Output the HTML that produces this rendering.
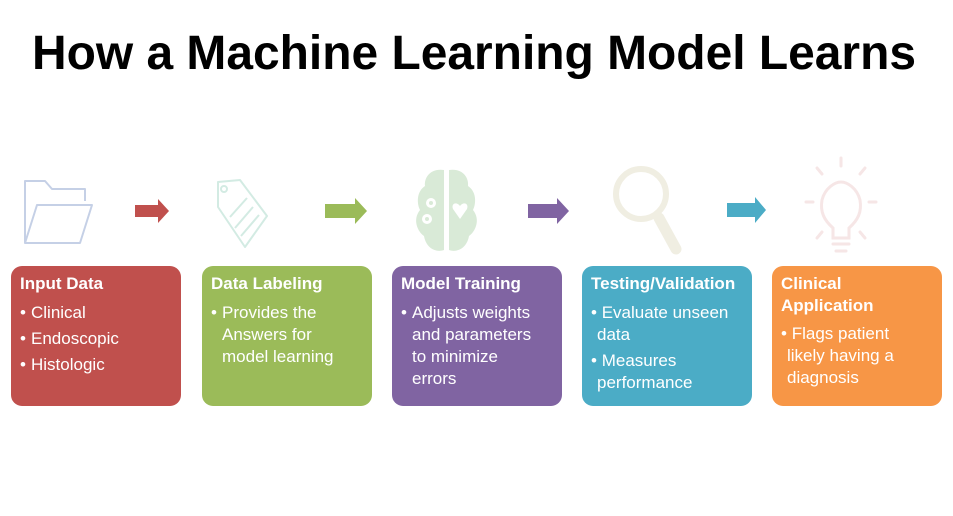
<!DOCTYPE html>
<html><head><meta charset="utf-8"><style>
*{margin:0;padding:0;box-sizing:border-box}
body{width:953px;height:516px;background:#fff;position:relative;overflow:hidden;font-family:"Liberation Sans",sans-serif}
.box{position:absolute;top:266px;width:170px;height:140px;border-radius:11px;color:#fff;padding:7px 9px}
.box h3{font-size:17px;font-weight:bold;line-height:22px}
.box p{font-size:17px;line-height:22px;position:relative;padding-left:11px;margin-top:4px;white-space:nowrap}
.box p::before{content:"•";position:absolute;left:0}
svg{position:absolute;left:0;top:0}
</style></head><body>
<svg width="953" height="516">
<text x="32" y="69" font-family="Liberation Sans" font-weight="bold" font-size="48" textLength="884" lengthAdjust="spacingAndGlyphs" fill="#000">How a Machine Learning Model Learns</text>
<polygon points="135,205 158,205 158,199 169,211 158,223 158,217 135,217" fill="#c0504d"/>
<polygon points="325,204 355,204 355,198 367,211 355,224 355,218 325,218" fill="#9bbb59"/>
<polygon points="528,204 557,204 557,198 569,211 557,224 557,218 528,218" fill="#8064a2"/>
<polygon points="727,203 755,203 755,197 766,210 755,223 755,217 727,217" fill="#4bacc6"/>
<g fill="none" stroke="#c5d0e6" stroke-width="2" stroke-linejoin="round">
<path d="M25,243 V181 H45 L52,189 H85 V201"/>
<path d="M25,243 L37,205 H92 L80,243 Z"/>
</g>
<g fill="none" stroke="#d3ebe3" stroke-width="2" stroke-linejoin="round">
<path d="M218,182 L240,180 L267,216 L245,247 L218,207 Z"/>
<circle cx="224" cy="189" r="3"/>
<line x1="230" y1="217" x2="247" y2="198"/>
<line x1="235" y1="228" x2="253" y2="207"/>
<line x1="241" y1="236" x2="259" y2="215"/>
</g>
<g fill="#d9ead7">
<path d="M444,170 C430,168 424,178 425,186 C416,192 417,204 420,210 C412,220 418,232 424,236 C426,248 436,253 444,250 Z"/>
<path d="M449,170 C463,168 469,178 468,186 C477,192 476,204 473,210 C481,220 475,232 469,236 C467,248 457,253 449,250 Z"/>
</g>
<g fill="#fff"><circle cx="431" cy="203" r="5"/><circle cx="427" cy="219" r="5"/>
<path d="M460,219 L453,209 C451,204 456,201 460,206 C464,201 469,204 467,209 Z"/></g>
<g fill="#d9ead7"><circle cx="431" cy="203" r="2"/><circle cx="427" cy="219" r="2"/></g>
<g stroke="#f0eee2" fill="none"><circle cx="641" cy="194" r="25" stroke-width="6"/>
<line x1="659" y1="218" x2="676" y2="249" stroke-width="11" stroke-linecap="round"/></g>
<g stroke="#f6e6e6" fill="none" stroke-width="3" stroke-linecap="round">
<path d="M833,238 V228 C824,220 820,212 822,200 C825,188 835,182 841,182 C847,182 857,188 860,200 C862,212 858,220 849,228 V238 Z"/>
<line x1="841" y1="158" x2="841" y2="166"/>
<line x1="817" y1="168" x2="822" y2="174"/><line x1="865" y1="168" x2="860" y2="174"/>
<line x1="806" y1="202" x2="813" y2="202"/><line x1="869" y1="202" x2="876" y2="202"/>
<line x1="817" y1="238" x2="822" y2="232"/><line x1="865" y1="238" x2="860" y2="232"/>
<line x1="833" y1="244" x2="849" y2="244"/><line x1="836" y1="251" x2="846" y2="251"/>
</g>
</svg>
<div class="box" style="left:11px;background:#c0504d"><h3>Input Data</h3>
<p style="margin-top:7px">Clinical</p><p>Endoscopic</p><p>Histologic</p></div>
<div class="box" style="left:202px;background:#9bbb59"><h3>Data Labeling</h3>
<p style="margin-top:7px">Provides the<br>Answers for<br>model learning</p></div>
<div class="box" style="left:392px;background:#8064a2"><h3>Model Training</h3>
<p style="margin-top:7px">Adjusts weights<br>and parameters<br>to minimize<br>errors</p></div>
<div class="box" style="left:582px;background:#4bacc6"><h3>Testing/Validation</h3>
<p style="margin-top:7px;padding-left:6px">&nbsp;Evaluate unseen<br>data</p><p style="padding-left:6px">&nbsp;Measures<br>performance</p></div>
<div class="box" style="left:772px;background:#f79646"><h3>Clinical<br>Application</h3>
<p style="margin-top:6px;padding-left:6px">&nbsp;Flags patient<br>likely having a<br>diagnosis</p></div>
</body></html>
